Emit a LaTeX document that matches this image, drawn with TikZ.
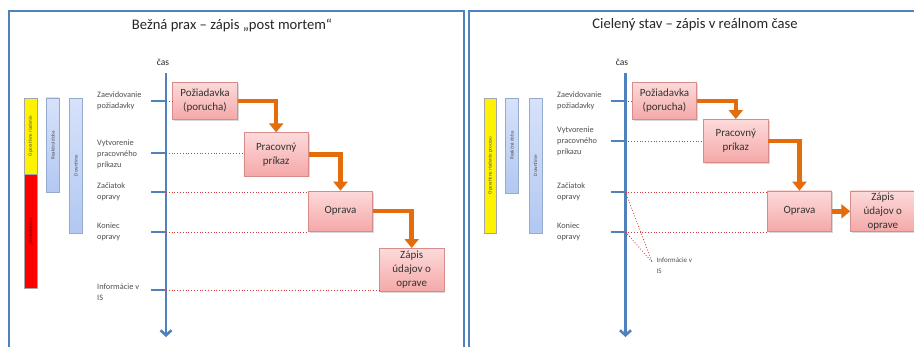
\documentclass[tikz,border=0pt]{standalone}
\usepackage{fontspec}
\setmainfont{Carlito}
\usetikzlibrary{arrows.meta,shadows,calc}
\definecolor{frameblue}{RGB}{79,129,189}
\definecolor{orng}{RGB}{228,108,10}
\definecolor{dotred}{RGB}{205,60,60}
\definecolor{lbl}{RGB}{80,80,80}
\definecolor{pinktop}{RGB}{253,218,218}
\definecolor{pinkbot}{RGB}{245,168,168}
\definecolor{pinkedge}{RGB}{215,140,140}
\definecolor{barblueL}{RGB}{215,226,250}
\definecolor{barblueR}{RGB}{178,200,242}
\definecolor{baredge}{RGB}{150,170,205}
\begin{document}
\begin{tikzpicture}[x=1pt,y=-1pt,
 panel/.style={draw=frameblue,line width=1.8pt},
 title/.style={font=\fontsize{14.6}{17}\selectfont,text=black!85},
 axis/.style={draw=frameblue,line width=2.6pt,-{Straight Barb[length=5pt,width=11pt]}},
 tickmark/.style={draw=frameblue,line width=2.2pt},
 guide/.style={draw=dotred,line width=0.8pt,dotted},
 flow/.style={draw=orng,line width=4.5pt,-{Triangle[length=9pt,width=14pt]}},
 stage/.style={draw=pinkedge,line width=0.6pt,top color=pinktop,bottom color=pinkbot,
   minimum width=64.5pt,align=center,inner sep=1pt,font=\fontsize{11}{14}\selectfont,text=black!80,
   drop shadow={shadow xshift=1.5pt,shadow yshift=-1.5pt,opacity=0.3}},
 lab/.style={anchor=west,align=left,font=\fontsize{8.3}{11}\selectfont,text=lbl,inner sep=0pt},
 barbase/.style={rotate=90,inner sep=0pt,font=\fontsize{5}{6}\selectfont,text=black!70},
 ybar/.style={barbase,draw=black!35,fill=yellow,minimum height=12.3pt},
 rbar/.style={barbase,draw=black!35,fill=red,minimum height=12.3pt,text=black!60!red},
 bbar/.style={barbase,draw=baredge,top color=barblueL,bottom color=barblueR,minimum height=12.8pt},
 timelbl/.style={font=\fontsize{9.5}{11}\selectfont,text=black!85}
]
\path[use as bounding box] (0,0) rectangle (914,346);
\clip (0,0) rectangle (914,346);
\fill[white] (0,0) rectangle (914,346);

% panels
\draw[panel] (9,11) rectangle (464,370);
\draw[panel] (469,11) rectangle (940,370);
\node[title] (tl) at (232,25) {Bežná prax – zápis „post mortem“};
\node[title] (tr) at (695,25) {Cielený stav – zápis v reálnom čase};

%%%%%%%% LEFT PANEL
\coordinate (la0) at (166,73);
\coordinate (la1) at (166,337);
\draw[axis] (la0) -- (la1);
\node[timelbl] (lcas) at (163,62) {čas};

\coordinate (lt1) at (166,101);
\coordinate (lt2) at (166,153);
\coordinate (lt3) at (166,192);
\coordinate (lt4) at (166,232);
\coordinate (lt5) at (166,290);
\foreach \t in {lt1,lt2,lt3,lt4,lt5} {\draw[tickmark] ($(\t)+(-15,0)$) -- (\t);}

\node[lab] (ll1) at (97,101) {Zaevidovanie\\požiadavky};
\node[lab] (ll2) at (97,154) {Vytvorenie\\pracovného\\príkazu};
\node[lab] (ll3) at (97,192) {Začiatok\\opravy};
\node[lab] (ll4) at (97,231.5) {Koniec\\opravy};
\node[lab] (ll5) at (97,292) {Informácie v\\IS};

\node[ybar,minimum width=76pt] (lyb) at (30.6,136) {Operatívne riadenie};
\node[rbar,minimum width=114.5pt] (lrb) at (30.6,231.2) {„Stratený čas“};
\node[bbar,minimum width=94.5pt] (lrd) at (52.8,145.2) {Reakčná doba};
\node[bbar,minimum width=135pt] (ldt) at (75.8,165.5) {Downtime};

\node[stage,minimum height=36.6pt] (lb1) at (205,101) {Požiadavka\\(porucha)};
\node[stage,minimum height=43.3pt] (lb2) at (276.2,154.3) {Pracovný\\príkaz};
\node[stage,minimum height=40pt] (lb3) at (340.5,211) {Oprava};
\node[stage,minimum height=43.4pt] (lb4) at (411.7,270) {Zápis\\údajov o\\oprave};

\draw[guide] (lt1) -- (lt1 -| lb1.west);
\draw[guide] (lt2) -- (lt2 -| lb2.west);
\draw[guide] (lt3) -- (lt3 -| lb3.west);
\draw[guide] (lt4) -- (lt4 -| lb3.west);
\draw[guide] (lt5) -- (lt5 -| lb4.west);

\draw[flow] (lb1.east) -| (lb2.north);
\draw[flow] (lb2.east) -| (lb3.north);
\draw[flow] (lb3.east) -| (lb4.north);

%%%%%%%% RIGHT PANEL
\coordinate (ra0) at (625.5,73);
\coordinate (ra1) at (625.5,337);
\draw[axis] (ra0) -- (ra1);
\node[timelbl] (rcas) at (622,62) {čas};

\coordinate (rt1) at (625.5,101);
\coordinate (rt2) at (625.5,141);
\coordinate (rt3) at (625.5,192);
\coordinate (rt4) at (625.5,232);
\foreach \t in {rt1,rt2,rt3,rt4} {\draw[tickmark] ($(\t)+(-15,0)$) -- (\t);}

\node[lab] (rl1) at (557,101) {Zaevidovanie\\požiadavky};
\node[lab] (rl2) at (557,141) {Vytvorenie\\pracovného\\príkazu};
\node[lab] (rl3) at (557,192) {Začiatok\\opravy};
\node[lab] (rl4) at (557,231.5) {Koniec\\opravy};

\node[ybar,minimum width=135pt] (ryb) at (490.3,165.5) {Operatívne riadenie procesu};
\node[bbar,minimum width=95pt] (rrd) at (512,145.5) {Reakčná doba};
\node[bbar,minimum width=135pt] (rdt) at (535.4,165.5) {Downtime};

\node[stage,minimum height=36.6pt] (rb1) at (664.5,101) {Požiadavka\\(porucha)};
\node[stage,minimum height=43.4pt] (rb2) at (735.8,141) {Pracovný\\príkaz};
\node[stage,minimum height=40.7pt] (rb3) at (799.5,211.3) {Oprava};
\node[stage,minimum height=40.7pt] (rb4) at (882.8,211.3) {Zápis\\údajov o\\oprave};

\draw[guide] (rt1) -- (rt1 -| rb1.west);
\draw[guide] (rt2) -- (rt2 -| rb2.west);
\draw[guide] (rt3) -- (rt3 -| rb3.west);
\draw[guide] (rt4) -- (rt4 -| rb3.west);

\node[lab,font=\fontsize{7}{10.5}\selectfont] (rinfo) at (656.5,265.5) {Informácie v\\IS};
\coordinate (rip) at (652,262);
\draw[guide] (rt3) -- (rip);
\draw[guide] (rt4) -- (rip);

\draw[flow] (rb1.east) -| (rb2.north);
\draw[flow] (rb2.east) -| (rb3.north);
\draw[flow] (rb3.east) -- (rb4.west);
\end{tikzpicture}
\end{document}
